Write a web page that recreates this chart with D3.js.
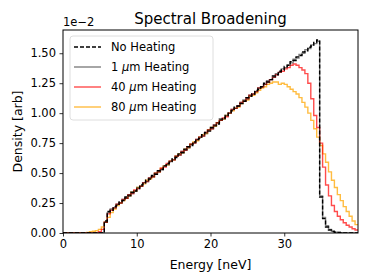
<!DOCTYPE html>
<html>
<head>
<meta charset="utf-8">
<script src="https://cdn.jsdelivr.net/npm/d3@7"></script>
<style>
  body { margin: 0; background: #fff; }
  text { font-family: "DejaVu Sans", sans-serif; fill: #000; }
</style>
</head>
<body>
<div id="chart"></div>
<script>

// left edges of the histogram bins [neV], bin width 0.4
var binEdges = [
  0, 0.4, 0.8, 1.2, 1.6, 2, 2.4, 2.8, 3.2, 3.6,
  4, 4.4, 4.8, 5.2, 5.6, 6, 6.4, 6.8, 7.2, 7.6,
  8, 8.4, 8.8, 9.2, 9.6, 10, 10.4, 10.8, 11.2, 11.6,
  12, 12.4, 12.8, 13.2, 13.6, 14, 14.4, 14.8, 15.2, 15.6,
  16, 16.4, 16.8, 17.2, 17.6, 18, 18.4, 18.8, 19.2, 19.6,
  20, 20.4, 20.8, 21.2, 21.6, 22, 22.4, 22.8, 23.2, 23.6,
  24, 24.4, 24.8, 25.2, 25.6, 26, 26.4, 26.8, 27.2, 27.6,
  28, 28.4, 28.8, 29.2, 29.6, 30, 30.4, 30.8, 31.2, 31.6,
  32, 32.4, 32.8, 33.2, 33.6, 34, 34.4, 34.8, 35.2, 35.6,
  36, 36.4, 36.8, 37.2, 37.6, 38, 38.4, 38.8, 39.2, 39.6
];
var binEnd = 40;

// densities in units of 1e-2
var noHeating = [
  0, 0, 0, 0, 0, 0, 0, 0, 0, 0,
  0, 0, 0, 0, 0.10, 0.18, 0.19, 0.22, 0.23, 0.26,
  0.27, 0.30, 0.31, 0.34, 0.35, 0.37, 0.40, 0.41, 0.44, 0.45,
  0.48, 0.49, 0.52, 0.53, 0.56, 0.58, 0.59, 0.62, 0.63, 0.66,
  0.67, 0.70, 0.72, 0.73, 0.76, 0.78, 0.79, 0.82, 0.84, 0.85,
  0.88, 0.90, 0.91, 0.95, 0.96, 0.98, 1.00, 1.02, 1.05, 1.06,
  1.08, 1.10, 1.13, 1.14, 1.16, 1.19, 1.20, 1.22, 1.25, 1.26,
  1.28, 1.31, 1.32, 1.35, 1.36, 1.39, 1.40, 1.43, 1.44, 1.47,
  1.48, 1.51, 1.52, 1.55, 1.56, 1.59, 1.61, 0.30, 0.12, 0.05,
  0.025, 0.012, 0.006, 0.004, 0.002, 0.001, 0.001, 0, 0, 0
];
var heat1 = [
  0, 0, 0, 0, 0, 0, 0, 0, 0, 0,
  0, 0, 0, 0, 0.09, 0.17, 0.20, 0.21, 0.24, 0.25,
  0.28, 0.29, 0.32, 0.33, 0.35, 0.38, 0.39, 0.42, 0.43, 0.46,
  0.47, 0.50, 0.51, 0.53, 0.56, 0.57, 0.60, 0.61, 0.64, 0.65,
  0.68, 0.69, 0.71, 0.74, 0.75, 0.78, 0.80, 0.81, 0.83, 0.86,
  0.87, 0.89, 0.92, 0.94, 0.95, 0.98, 1.00, 1.03, 1.04, 1.06,
  1.09, 1.11, 1.12, 1.15, 1.16, 1.18, 1.21, 1.22, 1.24, 1.27,
  1.28, 1.30, 1.33, 1.34, 1.37, 1.38, 1.40, 1.42, 1.45, 1.46,
  1.49, 1.50, 1.53, 1.54, 1.57, 1.58, 1.60, 0.31, 0.13, 0.06,
  0.03, 0.014, 0.007, 0.004, 0.002, 0.001, 0.001, 0, 0, 0
];
var heat40 = [
  0, 0, 0, 0, 0, 0, 0, 0, 0, 0,
  0, 0.003, 0.01, 0.03, 0.09, 0.16, 0.19, 0.21, 0.24, 0.25,
  0.28, 0.29, 0.32, 0.33, 0.36, 0.37, 0.39, 0.42, 0.43, 0.46,
  0.47, 0.50, 0.51, 0.54, 0.55, 0.58, 0.60, 0.61, 0.64, 0.65,
  0.68, 0.69, 0.72, 0.74, 0.75, 0.78, 0.80, 0.81, 0.84, 0.86,
  0.87, 0.90, 0.92, 0.94, 0.96, 0.97, 1.00, 1.03, 1.04, 1.06,
  1.09, 1.10, 1.12, 1.15, 1.16, 1.18, 1.21, 1.22, 1.24, 1.26,
  1.28, 1.30, 1.32, 1.34, 1.35, 1.37, 1.38, 1.40, 1.41, 1.40,
  1.38, 1.36, 1.33, 1.25, 1.12, 0.98, 0.88, 0.75, 0.55, 0.40,
  0.31, 0.23, 0.18, 0.14, 0.11, 0.085, 0.065, 0.05, 0.035, 0.025
];
var heat80 = [
  0, 0, 0, 0, 0, 0, 0, 0.002, 0.005, 0.01,
  0.015, 0.02, 0.03, 0.05, 0.09, 0.13, 0.17, 0.20, 0.23, 0.25,
  0.27, 0.29, 0.31, 0.34, 0.35, 0.38, 0.39, 0.41, 0.44, 0.45,
  0.47, 0.50, 0.51, 0.54, 0.56, 0.57, 0.60, 0.61, 0.64, 0.66,
  0.67, 0.70, 0.71, 0.74, 0.76, 0.77, 0.80, 0.82, 0.83, 0.86,
  0.88, 0.89, 0.92, 0.94, 0.95, 0.98, 1.00, 1.02, 1.04, 1.05,
  1.08, 1.10, 1.11, 1.14, 1.15, 1.17, 1.19, 1.21, 1.22, 1.24,
  1.25, 1.26, 1.26, 1.24, 1.25, 1.24, 1.22, 1.20, 1.18, 1.16,
  1.13, 1.09, 1.05, 1.00, 0.94, 0.87, 0.80, 0.73, 0.66, 0.59,
  0.51, 0.44, 0.38, 0.32, 0.27, 0.22, 0.18, 0.14, 0.10, 0.07
];

// legend labels: [number, unit (italic mu + m), rest]
var seriesNames = [["No Heating"], ["1 ", "\u03bc", "m Heating"], ["40 ", "\u03bc", "m Heating"], ["80 ", "\u03bc", "m Heating"]];
var xTicks = [0, 10, 20, 30];
var yTicks = [0, 0.25, 0.5, 0.75, 1.0, 1.25, 1.5];

var W = 374, H = 280;
var margin = {top: 30, right: 16, bottom: 47, left: 63};
var width = W - margin.left - margin.right,
    height = H - margin.top - margin.bottom;

var svg = d3.select("#chart").append("svg")
    .attr("width", W)
    .attr("height", H);

var g = svg.append("g")
    .attr("transform", "translate(" + margin.left + "," + margin.top + ")");

var x = d3.scaleLinear().domain([0, 40]).range([0, width]);
var y = d3.scaleLinear().domain([0, 1.694]).range([height, 0]);

g.append("clipPath").attr("id", "clip")
  .append("rect").attr("width", width).attr("height", height);

// histogram outline as steps
function stepPoints(vals){
    var pts = binEdges.map(function(e, i){ return [e, vals[i]]; });
    pts.push([binEnd, vals[vals.length - 1]]);
    return pts;
}
var line = d3.line()
    .x(function(d){ return x(d[0]); })
    .y(function(d){ return y(d[1]); })
    .curve(d3.curveStepAfter);

var styles = [
    {data: noHeating, color: "#000", opacity: 1, dash: "4,2"},
    {data: heat1, color: "#000", opacity: 0.5, dash: null},
    {data: heat40, color: "red", opacity: 0.7, dash: null},
    {data: heat80, color: "orange", opacity: 0.75, dash: null}
];

var plot = g.append("g").attr("clip-path", "url(#clip)");
// draw coloured ones first so the dashed reference stays on top
[3, 2, 1, 0].forEach(function(k){
    var s = styles[k];
    plot.append("path")
        .attr("d", line(stepPoints(s.data)))
        .attr("fill", "none")
        .attr("stroke", s.color)
        .attr("stroke-opacity", s.opacity)
        .attr("stroke-width", 1.4)
        .attr("stroke-dasharray", s.dash);
});

// axes
var xAxis = g.append("g")
    .attr("transform", "translate(0," + height + ")")
    .call(d3.axisBottom(x).tickValues(xTicks).tickSize(3.5).tickPadding(3.5).tickFormat(d3.format("d")));
var yAxis = g.append("g")
    .call(d3.axisLeft(y).tickValues(yTicks).tickSize(3.5).tickPadding(3.5).tickFormat(d3.format(".2f")));
[xAxis, yAxis].forEach(function(a){
    a.select(".domain").remove();
    a.selectAll("text").style("font-size", "11.5px").style("font-family", "DejaVu Sans");
    a.selectAll("line").attr("stroke", "#000").attr("stroke-width", 0.8);
});

// frame
g.append("rect")
    .attr("width", width).attr("height", height)
    .attr("fill", "none").attr("stroke", "#000").attr("stroke-width", 1);

// offset text, title, axis labels
g.append("text").attr("x", 0).attr("y", -4)
    .style("font-size", "11.5px").text("1e\u22122");
g.append("text").attr("x", width / 2).attr("y", -6)
    .attr("text-anchor", "middle").style("font-size", "15px")
    .text("Spectral Broadening");
g.append("text").attr("x", width / 2).attr("y", height + 36)
    .attr("text-anchor", "middle").style("font-size", "12.5px")
    .text("Energy [neV]");
g.append("text")
    .attr("transform", "translate(" + (-41) + "," + (height / 2) + ") rotate(-90)")
    .attr("text-anchor", "middle").style("font-size", "12.5px")
    .text("Density [arb]");

// legend
var leg = g.append("g").attr("transform", "translate(7,6)");
leg.append("rect")
    .attr("width", 143).attr("height", 84).attr("rx", 3)
    .attr("fill", "#fff").attr("fill-opacity", 0.8)
    .attr("stroke", "#d6d6d6").attr("stroke-width", 0.8);
seriesNames.forEach(function(parts, i){
    var s = styles[i];
    var yy = 11 + i * 20;
    leg.append("line")
        .attr("x1", 4).attr("x2", 31).attr("y1", yy).attr("y2", yy)
        .attr("stroke", s.color).attr("stroke-opacity", s.opacity)
        .attr("stroke-width", 1.4).attr("stroke-dasharray", s.dash);
    var t = leg.append("text").attr("x", 41).attr("y", yy + 4)
        .style("font-size", "11.5px");
    parts.forEach(function(p, j){
        t.append("tspan").style("font-style", j === 1 ? "italic" : "normal").text(p);
    });
});

</script>
</body>
</html>
